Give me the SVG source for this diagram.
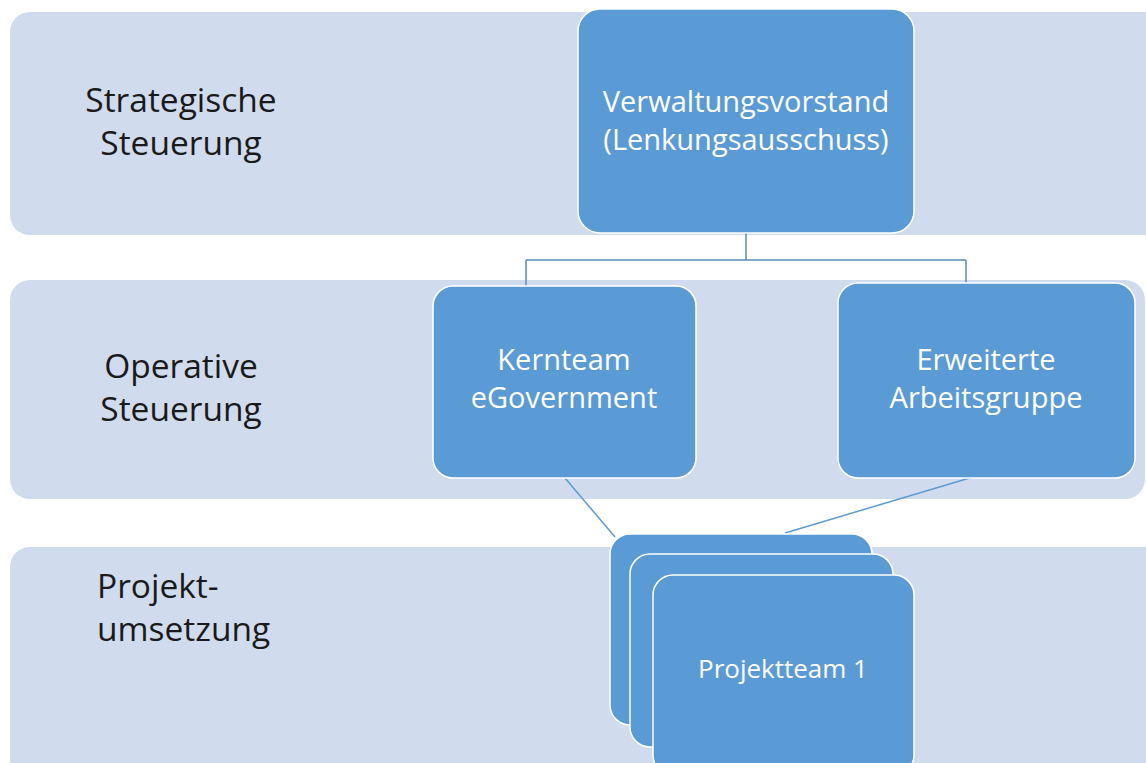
<svg xmlns="http://www.w3.org/2000/svg" width="1146" height="763" viewBox="0 0 1146 763">
<style>
.band{fill:#D0DCEE}
.node{fill:#5B9BD5;stroke:#FFFFFF;stroke-width:1.5}
.lbl{font-family:"Open Sans","Noto Sans",sans-serif;font-size:33.5px;fill:#1a1a1a}
.nt{font-family:"Open Sans","Noto Sans",sans-serif;font-size:29px;fill:#FFFFFF;text-anchor:middle}
.conn{fill:none;stroke:#5B8AB8;stroke-width:1.5}
.diag{fill:none;stroke:#5B9BD5;stroke-width:1.5}
</style>
<rect width="1146" height="763" fill="#FFFFFF"/>
<g id="band-strategic"><rect class="band" x="10" y="12" width="1160" height="223" rx="20"/>
<text class="lbl" text-anchor="middle"><tspan x="181" y="112">Strategische</tspan><tspan x="181" y="155">Steuerung</tspan></text></g>
<g id="band-operative"><rect class="band" x="10" y="280" width="1135" height="219" rx="20"/>
<text class="lbl" text-anchor="middle"><tspan x="181" y="378">Operative</tspan><tspan x="181" y="421">Steuerung</tspan></text></g>
<g id="band-project"><rect class="band" x="10" y="547" width="1160" height="240" rx="20"/>
<text class="lbl"><tspan x="97" y="598">Projekt-</tspan><tspan x="97" y="641">umsetzung</tspan></text></g>
<g id="connectors">
<path class="conn" d="M746 233 V260 M526 260 H966 M526 260 V286 M966 260 V283"/>
<path class="diag" d="M565 478 L615 537 M973 477 L785 533"/>
</g>
<g id="node-verwaltungsvorstand"><rect class="node" x="578" y="9" width="336" height="224" rx="22"/>
<text class="nt"><tspan x="746" y="112">Verwaltungsvorstand</tspan><tspan x="746" y="150">(Lenkungsausschuss)</tspan></text></g>
<g id="node-kernteam"><rect class="node" x="433" y="286" width="263" height="192" rx="20"/>
<text class="nt"><tspan x="564" y="370">Kernteam</tspan><tspan x="564" y="408">eGovernment</tspan></text></g>
<g id="node-erweiterte"><rect class="node" x="838" y="283" width="297" height="195" rx="20"/>
<text class="nt"><tspan x="986" y="370">Erweiterte</tspan><tspan x="986" y="408">Arbeitsgruppe</tspan></text></g>
<g id="node-projektteam">
<rect class="node" x="610" y="534" width="262" height="191" rx="20"/>
<rect class="node" x="630" y="554" width="263" height="193" rx="20"/>
<rect class="node" x="653" y="575" width="261" height="200" rx="20"/>
<text class="nt" x="783" y="678" style="font-size:26px">Projektteam 1</text></g>
</svg>
